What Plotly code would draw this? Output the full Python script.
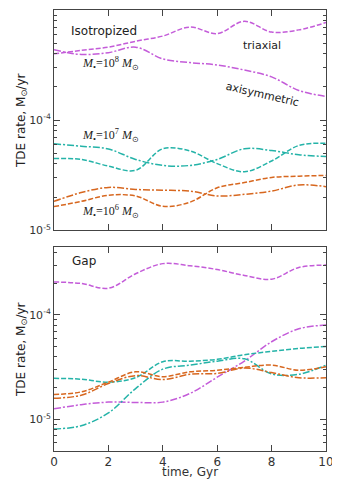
import numpy as np
import plotly.graph_objects as go
from plotly.subplots import make_subplots

t = [0, 1, 2, 3, 4, 5, 6, 7, 8, 9, 10]

# Isotropized panel
iso_1e8_tri = [4.0e-4, 4.3e-4, 4.6e-4, 5.2e-4, 5.8e-4, 7.0e-4, 6.1e-4, 7.9e-4, 6.3e-4, 6.6e-4, 7.7e-4]
iso_1e8_axi = [4.35e-4, 3.95e-4, 4.1e-4, 4.6e-4, 3.6e-4, 3.33e-4, 3.17e-4, 2.85e-4, 2.47e-4, 1.86e-4, 1.64e-4]
iso_1e7_a = [6.1e-5, 5.8e-5, 5.47e-5, 4.4e-5, 3.88e-5, 3.88e-5, 4.4e-5, 5.5e-5, 5.3e-5, 4.85e-5, 4.68e-5]
iso_1e7_b = [4.48e-5, 4.4e-5, 3.83e-5, 3.5e-5, 5.5e-5, 5.25e-5, 4.03e-5, 3.4e-5, 4.26e-5, 5.88e-5, 6.18e-5]
iso_1e6_a = [1.83e-5, 2.2e-5, 2.45e-5, 2.35e-5, 2.31e-5, 2.27e-5, 2.05e-5, 2.12e-5, 2.27e-5, 2.58e-5, 2.49e-5]
iso_1e6_b = [1.64e-5, 1.83e-5, 2.08e-5, 2.05e-5, 1.65e-5, 1.8e-5, 2.43e-5, 2.71e-5, 3.02e-5, 3.1e-5, 3.15e-5]

# Gap panel
gap_1e8_a = [2.07e-4, 2.0e-4, 1.8e-4, 2.48e-4, 3.1e-4, 2.96e-4, 2.72e-4, 2.39e-4, 2.2e-4, 2.85e-4, 3.0e-4]
gap_1e8_b = [1.26e-5, 1.38e-5, 1.46e-5, 1.45e-5, 1.46e-5, 1.77e-5, 2.53e-5, 3.61e-5, 5.53e-5, 7.36e-5, 8.0e-5]
gap_1e7_a = [2.47e-5, 2.42e-5, 2.27e-5, 2.5e-5, 3.56e-5, 3.6e-5, 3.75e-5, 4.16e-5, 4.47e-5, 4.77e-5, 4.98e-5]
gap_1e7_b = [8.07e-6, 8.67e-6, 1.15e-5, 1.97e-5, 3.02e-5, 3.3e-5, 3.6e-5, 3.8e-5, 2.72e-5, 2.7e-5, 3.3e-5]
gap_1e6_a = [1.73e-5, 1.83e-5, 2.27e-5, 2.85e-5, 2.56e-5, 2.85e-5, 2.95e-5, 3.15e-5, 3.3e-5, 2.95e-5, 3.19e-5]
gap_1e6_b = [1.59e-5, 1.7e-5, 2.2e-5, 2.62e-5, 2.4e-5, 2.7e-5, 2.75e-5, 3.1e-5, 2.8e-5, 2.5e-5, 2.5e-5]

PURPLE = "#c45cd9"
TEAL = "#24b3a8"
ORANGE = "#d7671f"
DASH = "5px,2px"
DASHDOT = "7px,2px,2px,2px"

fig = make_subplots(rows=2, cols=1, vertical_spacing=0.0385,
                    row_heights=[0.5147, 0.476])

def add(y, color, dash, row):
    fig.add_trace(go.Scatter(x=t, y=y, mode="lines",
                             line=dict(color=color, dash=dash, width=1.5, shape="spline", smoothing=1.0),
                             showlegend=False, hoverinfo="skip"), row=row, col=1)

add(iso_1e8_tri, PURPLE, DASH, 1)
add(iso_1e8_axi, PURPLE, DASHDOT, 1)
add(iso_1e7_a, TEAL, DASHDOT, 1)
add(iso_1e7_b, TEAL, DASH, 1)
add(iso_1e6_a, ORANGE, DASHDOT, 1)
add(iso_1e6_b, ORANGE, DASH, 1)

add(gap_1e8_a, PURPLE, DASH, 2)
add(gap_1e8_b, PURPLE, DASHDOT, 2)
add(gap_1e7_a, TEAL, DASH, 2)
add(gap_1e7_b, TEAL, DASHDOT, 2)
add(gap_1e6_a, ORANGE, DASH, 2)
add(gap_1e6_b, ORANGE, DASHDOT, 2)

AX = "#444444"
minor_vals = [m * 10.0 ** e for e in (-6, -5, -4) for m in range(2, 10)]
yax = dict(type="log", ticks="inside", ticklen=6, tickwidth=1, tickcolor=AX, automargin=False,
           showline=True, linecolor=AX, linewidth=1, mirror="ticks", showgrid=False,
           zeroline=False, tickfont=dict(family="DejaVu Sans", size=11, color="#333"),
           tickmode="array",
           minor=dict(ticks="inside", ticklen=3, tickcolor=AX, tickmode="array", tickvals=minor_vals))
xax = dict(range=[0, 10], ticks="inside", ticklen=6, tickcolor=AX, showline=True, linecolor=AX,
           linewidth=1, mirror="ticks", showgrid=False, zeroline=False, dtick=2, automargin=False,
           tickfont=dict(family="DejaVu Sans", size=12, color="#333"))

fig.update_yaxes(**yax)
fig.update_yaxes(range=[-5, -3], tickvals=[1e-5, 1e-4, 1e-3],
                 ticktext=["10<sup>-5</sup>", "10<sup>-4</sup>", "10<sup>-3</sup>"], row=1, col=1)
fig.update_yaxes(range=[-5.304, -3.352], tickvals=[1e-5, 1e-4],
                 ticktext=["10<sup>-5</sup>", "10<sup>-4</sup>"], row=2, col=1)
fig.update_xaxes(**xax)
fig.update_xaxes(showticklabels=False, row=1, col=1)

TXT = dict(family="DejaVu Sans", size=12, color="#222")
SER = dict(family="Liberation Serif", size=12, color="#222")
ytitle = "TDE rate, M<sub>⊙</sub>/yr"
ann = [
    dict(x=1.84, y=-3.187, text="Isotropized", font=TXT, xref="x", yref="y"),
    dict(x=7.65, y=-3.318, text="triaxial", font=dict(family="DejaVu Sans", size=11, color="#222"), xref="x", yref="y"),
    dict(x=7.65, y=-3.77, text="axisymmetric", font=dict(family="DejaVu Sans", size=11, color="#222"),
         xref="x", yref="y", textangle=13),
    dict(x=2.06, y=-3.486, text="<i>M</i><sub>•</sub>=10<sup>8</sup> <i>M</i><sub>⊙</sub>", font=SER, xref="x", yref="y"),
    dict(x=2.06, y=-4.14, text="<i>M</i><sub>•</sub>=10<sup>7</sup> <i>M</i><sub>⊙</sub>", font=SER, xref="x", yref="y"),
    dict(x=2.06, y=-4.832, text="<i>M</i><sub>•</sub>=10<sup>6</sup> <i>M</i><sub>⊙</sub>", font=SER, xref="x", yref="y"),
    dict(x=1.1, y=-3.482, text="Gap", font=TXT, xref="x2", yref="y2"),
    dict(x=-0.155, y=0.5, text=ytitle, font=TXT, xref="paper", yref="y domain", textangle=-90),
    dict(x=-0.155, y=0.5, text=ytitle, font=TXT, xref="paper", yref="y2 domain", textangle=-90),
    dict(x=0.5, y=0, yshift=-21, text="time, Gyr", font=dict(family="DejaVu Sans", size=12, color="#333"),
         xref="x2 domain", yref="y2 domain", yanchor="middle"),
]
for a in ann:
    a["showarrow"] = False
    fig.add_annotation(**a)

fig.update_layout(width=332, height=472, margin=dict(l=46, r=14, t=2, b=29),
                  plot_bgcolor="white", paper_bgcolor="white")

fig.write_html("out.html")
